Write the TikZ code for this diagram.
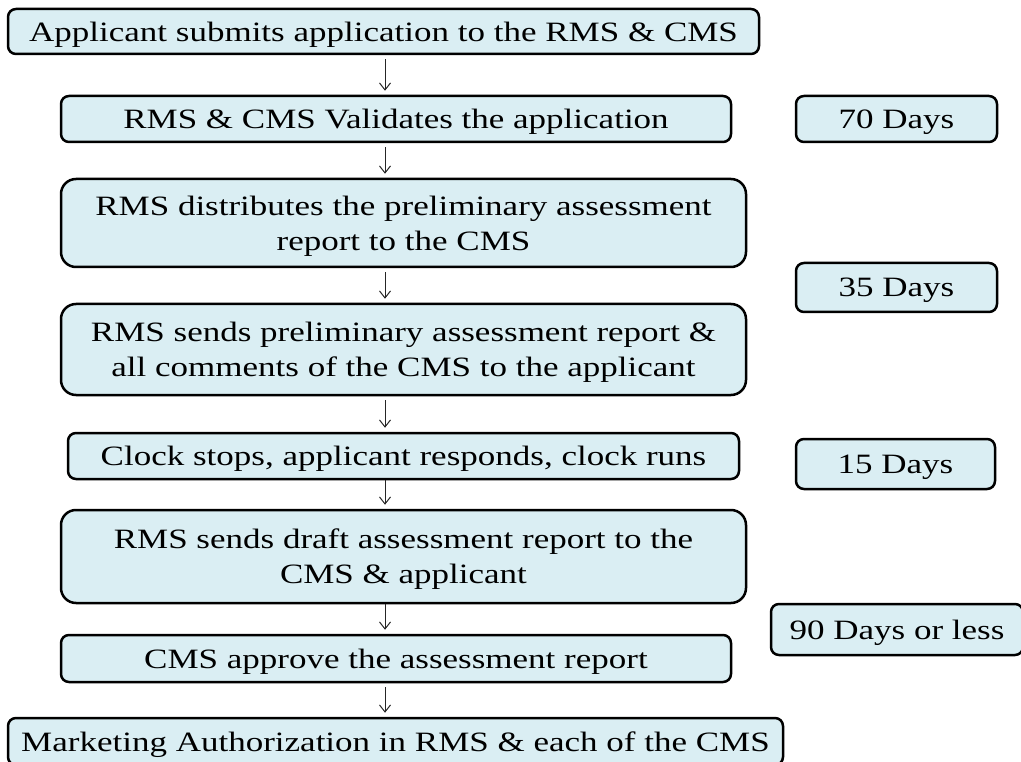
\documentclass[tikz,border=0pt]{standalone}
\usepackage{fontspec}
\setmainfont{Liberation Serif}[FakeStretch=1.25]
\usepackage{tikz}
\usetikzlibrary{arrows.meta}
\definecolor{boxblue}{HTML}{DAEEF3}

\begin{document}
\begin{tikzpicture}[x=1pt,y=-1pt,
	box/.style={draw=black,line width=2.5pt,fill=boxblue,rounded corners=8pt,inner sep=0pt,align=center,text depth=0pt,font=\fontsize{28}{35}\selectfont},
	tallbox/.style={box,rounded corners=15pt},
	flow/.style={->,line width=1pt,black!85,shorten <=4pt,shorten >=4pt},
	>={Straight Barb[length=7pt,width=11pt]}]

	\useasboundingbox (0,0) rectangle (1021,762);
	\coordinate (ax) at (385,0);

	\node (S1)[box,minimum width=751pt,minimum height=45pt] at (383.5,31.5) {Applicant submits application to the RMS \& CMS};
	\node (S2)[box,minimum width=670pt,minimum height=46pt] at (396,119) {RMS \& CMS Validates the application};
	\node (S3)[tallbox,minimum width=685pt,minimum height=88pt] at (403.5,223) {RMS distributes the preliminary assessment\\report to the CMS};
	\node (S4)[tallbox,minimum width=685pt,minimum height=91pt] at (403.5,349.5) {RMS sends preliminary assessment report \&\\all comments of the CMS to the applicant};
	\node (S5)[box,minimum width=671pt,minimum height=46pt] at (403.5,456) {Clock stops, applicant responds, clock runs};
	\node (S6)[tallbox,minimum width=685pt,minimum height=93pt] at (403.5,556.5) {RMS sends draft assessment report to the\\CMS \& applicant};
	\node (S7)[box,minimum width=670pt,minimum height=47pt] at (396,658.5) {CMS approve the assessment report};
	\node (S8)[box,minimum width=775pt,minimum height=47pt] at (395.5,741.5) {Marketing Authorization in RMS \& each of the CMS};

	\node (D1)[box,minimum width=201pt,minimum height=46pt] at (896.5,119) {70 Days};
	\node (D2)[box,minimum width=201pt,minimum height=49pt] at (896.5,287.5) {35 Days};
	\node (D3)[box,minimum width=199pt,minimum height=50pt] at (895.5,464) {15 Days};
	\node (D4)[box,minimum width=252pt,minimum height=51pt] at (897,629.5) {90 Days or less};

	\draw [flow] (S1.south -| ax) to (S2.north -| ax);
	\draw [flow] (S2.south -| ax) to (S3.north -| ax);
	\draw [flow] (S3.south -| ax) to (S4.north -| ax);
	\draw [flow] (S4.south -| ax) to (S5.north -| ax);
	\draw [flow,shorten <=0pt] (S5.south -| ax) to (S6.north -| ax);
	\draw [flow,shorten <=0pt] (S6.south -| ax) to (S7.north -| ax);
	\draw [flow] (S7.south -| ax) to (S8.north -| ax);

\end{tikzpicture}
\end{document}
